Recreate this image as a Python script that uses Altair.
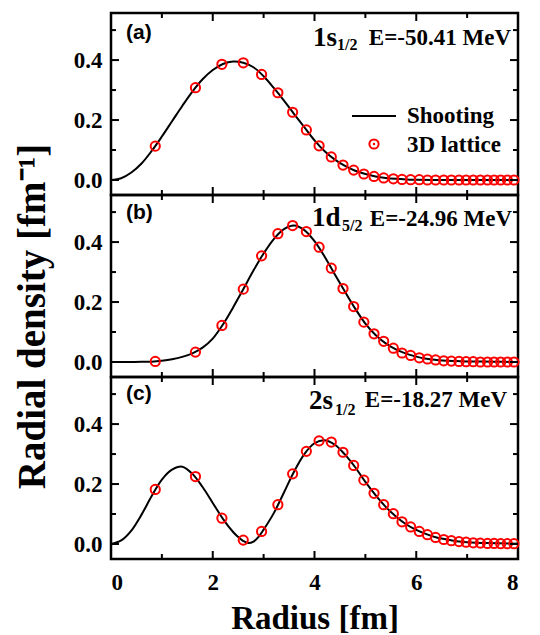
import altair as alt
import pandas as pd

# ---------------- data ----------------
r_lattice = [0.87, 1.66, 2.18, 2.60, 2.96, 3.28, 3.57, 3.84, 4.09, 4.33, 4.56, 4.77,
             4.97, 5.17, 5.36, 5.55, 5.72, 5.89, 6.06, 6.22, 6.38, 6.54, 6.69, 6.84,
             6.98, 7.12, 7.26, 7.40, 7.53, 7.66, 7.79, 7.92]

lat_a = [0.113, 0.308, 0.386, 0.391, 0.352, 0.291, 0.226, 0.167, 0.114, 0.077, 0.050, 0.033,
         0.020, 0.012, 0.007, 0.004, 0.002, 0.001, 0.001, 0.0, 0.0, 0.0, 0.0, 0.0,
         0.0, 0.0, 0.0, 0.0, 0.0, 0.0, 0.0, 0.0]
lat_b = [0.002, 0.033, 0.122, 0.243, 0.354, 0.428, 0.455, 0.435, 0.383, 0.313, 0.245, 0.185,
         0.133, 0.094, 0.069, 0.046, 0.030, 0.022, 0.014, 0.010, 0.007, 0.004, 0.003, 0.002,
         0.001, 0.001, 0.0, 0.0, 0.0, 0.0, 0.0, 0.0]
lat_c = [0.182, 0.225, 0.086, 0.013, 0.042, 0.131, 0.234, 0.309, 0.344, 0.340, 0.306, 0.262,
         0.213, 0.169, 0.131, 0.101, 0.074, 0.057, 0.042, 0.031, 0.022, 0.015, 0.011, 0.008,
         0.006, 0.004, 0.003, 0.002, 0.002, 0.001, 0.001, 0.001]

r_line_a = [0.0, 0.2, 0.4, 0.6, 0.8, 1.0, 1.2, 1.4, 1.6, 1.8, 2.0, 2.2, 2.4, 2.6, 2.8, 3.0,
            3.2, 3.4, 3.6, 3.8, 4.0, 4.2, 4.4, 4.6, 4.8, 5.0, 5.2, 5.4, 5.6, 5.8, 6.0, 6.5,
            7.0, 8.0]
d_line_a = [0.0, 0.006, 0.025, 0.055, 0.097, 0.145, 0.196, 0.247, 0.295, 0.336, 0.367, 0.387,
            0.395, 0.391, 0.376, 0.346, 0.307, 0.265, 0.220, 0.176, 0.132, 0.096, 0.068, 0.047,
            0.031, 0.020, 0.012, 0.007, 0.004, 0.002, 0.001, 0.0, 0.0, 0.0]

r_line_b = [0.0, 0.2, 0.4, 0.6, 0.8, 1.0, 1.2, 1.4, 1.6, 1.8, 2.0, 2.2, 2.4, 2.6, 2.8, 3.0,
            3.2, 3.4, 3.6, 3.8, 4.0, 4.2, 4.4, 4.6, 4.8, 5.0, 5.2, 5.4, 5.6, 5.8, 6.0, 6.2,
            6.4, 6.6, 6.8, 7.0, 7.5, 8.0]
d_line_b = [0.0, 0.0, 0.0, 0.0005, 0.001, 0.004, 0.009, 0.017, 0.029, 0.048, 0.078, 0.125,
            0.182, 0.243, 0.305, 0.362, 0.410, 0.443, 0.455, 0.440, 0.403, 0.351, 0.292, 0.234,
            0.178, 0.128, 0.090, 0.062, 0.042, 0.028, 0.018, 0.011, 0.007, 0.004, 0.003, 0.002,
            0.001, 0.0]

r_line_c = [0.0, 0.2, 0.4, 0.6, 0.8, 1.0, 1.2, 1.4, 1.6, 1.8, 2.0, 2.2, 2.4, 2.5, 2.6, 2.7,
            2.8, 2.9, 3.0, 3.2, 3.4, 3.6, 3.8, 4.0, 4.2, 4.4, 4.6, 4.8, 5.0, 5.2, 5.4, 5.6,
            5.8, 6.0, 6.2, 6.4, 6.6, 6.8, 7.0, 7.4, 8.0]
d_line_c = [0.0, 0.012, 0.045, 0.098, 0.160, 0.215, 0.248, 0.258, 0.234, 0.190, 0.137, 0.084,
            0.040, 0.023, 0.010, 0.003, 0.008, 0.024, 0.048, 0.103, 0.172, 0.242, 0.300, 0.336,
            0.346, 0.331, 0.298, 0.256, 0.207, 0.163, 0.124, 0.092, 0.066, 0.047, 0.033, 0.022,
            0.015, 0.009, 0.006, 0.003, 0.001]

x_major = [2, 4, 6]
x_minor = [1, 3, 5, 7]
y_major = [0.0, 0.2, 0.4]
y_minor = [0.1, 0.3, 0.5]
x_labels = [0, 2, 4, 6, 8]

# ---------------- layout ----------------
W, H = 407, 182
SERIF = "Liberation Serif"
XS = alt.Scale(domain=[0, 8], nice=False, zero=False)
YS = alt.Scale(domain=[-0.05, 0.557], nice=False, zero=False)
MAJ, MIN = 8, 5


def txt(s, x, y, size, font=SERIF, align="left"):
    return alt.Chart(pd.DataFrame({"t": [s]})).mark_text(
        font=font, fontWeight="bold", fontSize=size, align=align,
        baseline="alphabetic", color="black"
    ).encode(text="t:N", x=alt.value(x), y=alt.value(y))


def ticks():
    layers = []
    for vals, ln in ((x_major, MAJ), (x_minor, MIN)):
        df = pd.DataFrame({"v": vals})
        layers.append(alt.Chart(df).mark_rule(color="black", strokeWidth=2).encode(
            x=alt.X("v:Q", scale=XS), y=alt.value(H), y2=alt.value(H - ln)))
        layers.append(alt.Chart(df).mark_rule(color="black", strokeWidth=2).encode(
            x=alt.X("v:Q", scale=XS), y=alt.value(0), y2=alt.value(ln)))
    for vals, ln in ((y_major, MAJ), (y_minor, MIN)):
        df = pd.DataFrame({"v": vals})
        layers.append(alt.Chart(df).mark_rule(color="black", strokeWidth=2).encode(
            y=alt.Y("v:Q", scale=YS), x=alt.value(0), x2=alt.value(ln)))
        layers.append(alt.Chart(df).mark_rule(color="black", strokeWidth=2).encode(
            y=alt.Y("v:Q", scale=YS), x=alt.value(W), x2=alt.value(W - ln)))
    return layers


def panel(r_line, d_line, d_lat, tag, orb, sub, energy, tpos, show_x, y_title):
    line_df = pd.DataFrame({"r": r_line, "d": d_line})
    lat_df = pd.DataFrame({"r": r_lattice, "d": d_lat})

    if show_x:
        xaxis = alt.Axis(values=x_labels, format="d", ticks=False, domain=False, grid=False,
                         labelFont=SERIF, labelFontWeight="bold", labelFontSize=23,
                         labelColor="black", labelPadding=12,
                         title="Radius [fm]", titleFont=SERIF, titleFontWeight="bold",
                         titleFontSize=33, titleColor="black", titleBaseline="alphabetic",
                         titleY=69)
    else:
        xaxis = None

    yaxis_kw = dict(values=y_major, format=".1f", ticks=False, domain=False, grid=False,
                    labelFont=SERIF, labelFontWeight="bold", labelFontSize=23,
                    labelColor="black", labelPadding=9)
    if y_title:
        yaxis = alt.Axis(title="Radial density [fm\u207b\u00b9]", titleFont=SERIF,
                         titleFontWeight="bold", titleFontSize=39, titleColor="black",
                         titleBaseline="alphabetic", titleX=-67, titleY=121,
                         titleAngle=270, titleAlign="center", **yaxis_kw)
    else:
        yaxis = alt.Axis(title="", **yaxis_kw)

    line = alt.Chart(line_df).mark_line(color="black", strokeWidth=2,
                                        interpolate="catmull-rom").encode(
        x=alt.X("r:Q", scale=XS, axis=xaxis),
        y=alt.Y("d:Q", scale=YS, axis=yaxis))
    pts = alt.Chart(lat_df).mark_point(shape="circle", filled=False, color="#ff0000",
                                       strokeWidth=2, size=85, opacity=1).encode(
        x=alt.X("r:Q", scale=XS), y=alt.Y("d:Q", scale=YS))

    (tx, ty), (ox, oy), (sx, sy), (ex, ey) = tpos
    layers = [line, pts] + ticks() + [
        txt(tag, tx, ty, 21, font="Liberation Sans"),
        txt(orb, ox, oy, 27),
        txt(sub, sx, sy, 16),
        txt(energy, ex, ey, 23, align="right"),
    ]
    return alt.layer(*layers).properties(width=W, height=H)


pa = panel(r_line_a, d_line_a, lat_a, "(a)", "1s", "1/2", "E=-50.41 MeV",
           [(15, 26), (202, 33), (226, 37), (400, 32)], False, False)
pb = panel(r_line_b, d_line_b, lat_b, "(b)", "1d", "5/2", "E=-24.96 MeV",
           [(15, 24), (201, 31), (231, 36), (401, 31)], False, True)
pc = panel(r_line_c, d_line_c, lat_c, "(c)", "2s", "1/2", "E=-18.27 MeV",
           [(15, 23), (198, 32), (224, 38), (396, 30)], True, False)

# legend in panel (a)
leg_line = alt.Chart(pd.DataFrame({"k": [1]})).mark_rule(color="black", strokeWidth=2).encode(
    x=alt.value(241), x2=alt.value(285), y=alt.value(103))
leg_pt = alt.Chart(pd.DataFrame({"k": [1]})).mark_point(
    shape="circle", filled=False, color="#ff0000", strokeWidth=2, size=85, opacity=1).encode(
    x=alt.value(263), y=alt.value(131))
leg_dot = alt.Chart(pd.DataFrame({"k": [1]})).mark_point(
    shape="circle", filled=True, color="#ff0000", size=6, opacity=1).encode(
    x=alt.value(263), y=alt.value(131))
pa = alt.layer(pa, leg_line, leg_pt, leg_dot,
               txt("Shooting", 296, 110, 23), txt("3D lattice", 296, 139, 23))

chart = alt.vconcat(pa, pb, pc, spacing=0, bounds="flush").properties(
    padding={"left": 3, "top": 2, "right": 5, "bottom": 5},
).configure_view(stroke="black", strokeWidth=2.5).configure_concat(spacing=0)

chart.save("out.html", embed_options={"renderer": "svg", "actions": False})
